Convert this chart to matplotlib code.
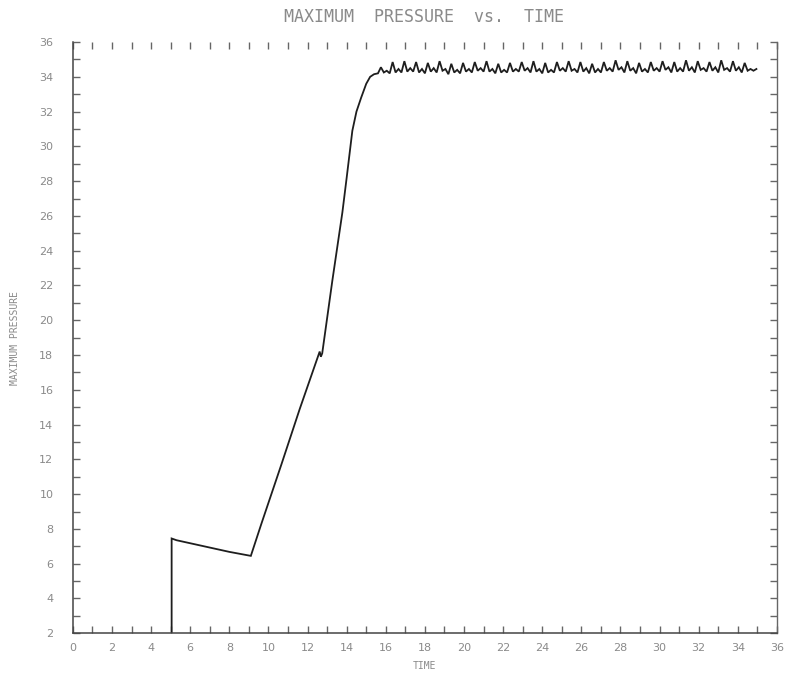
import matplotlib
matplotlib.use("Agg")
import matplotlib.pyplot as plt
from matplotlib.ticker import MultipleLocator

# ── data ─────────────────────────────────────────────────────────────────────
# quiet start, jump, slow decay, linear climb, knee, curve up to plateau
ramp_time = [0.0, 5.05, 5.05, 5.3, 6.5, 8.0, 9.1, 9.64, 10.66, 11.6, 12.62,
             12.68, 12.75, 13.27, 13.78, 14.0, 14.29, 14.5, 14.74, 15.0,
             15.2, 15.4]
ramp_pressure = [0.0, 0.0, 7.45, 7.35, 7.05, 6.68, 6.45, 8.3, 11.7, 14.9,
                 18.2, 17.9, 18.1, 22.3, 26.2, 28.2, 30.9, 32.0, 32.8, 33.6,
                 34.0, 34.15]

# oscillating plateau
plateau_time = [
    15.60, 15.75, 15.90, 16.05, 16.20, 16.35, 16.50, 16.65,
    16.80, 16.95, 17.10, 17.25, 17.40, 17.55, 17.70, 17.85,
    18.00, 18.15, 18.30, 18.45, 18.60, 18.75, 18.90, 19.05,
    19.20, 19.35, 19.50, 19.65, 19.80, 19.95, 20.10, 20.25,
    20.40, 20.55, 20.70, 20.85, 21.00, 21.15, 21.30, 21.45,
    21.60, 21.75, 21.90, 22.05, 22.20, 22.35, 22.50, 22.65,
    22.80, 22.95, 23.10, 23.25, 23.40, 23.55, 23.70, 23.85,
    24.00, 24.15, 24.30, 24.45, 24.60, 24.75, 24.90, 25.05,
    25.20, 25.35, 25.50, 25.65, 25.80, 25.95, 26.10, 26.25,
    26.40, 26.55, 26.70, 26.85, 27.00, 27.15, 27.30, 27.45,
    27.60, 27.75, 27.90, 28.05, 28.20, 28.35, 28.50, 28.65,
    28.80, 28.95, 29.10, 29.25, 29.40, 29.55, 29.70, 29.85,
    30.00, 30.15, 30.30, 30.45, 30.60, 30.75, 30.90, 31.05,
    31.20, 31.35, 31.50, 31.65, 31.80, 31.95, 32.10, 32.25,
    32.40, 32.55, 32.70, 32.85, 33.00, 33.15, 33.30, 33.45,
    33.60, 33.75, 33.90, 34.05, 34.20, 34.35, 34.50, 34.65,
    34.80, 34.95,
]
plateau_pressure = [
    34.20, 34.55, 34.25, 34.35, 34.20, 34.85, 34.25, 34.45,
    34.25, 34.90, 34.30, 34.50, 34.30, 34.85, 34.25, 34.45,
    34.20, 34.80, 34.30, 34.50, 34.25, 34.90, 34.35, 34.45,
    34.15, 34.75, 34.25, 34.40, 34.20, 34.80, 34.30, 34.45,
    34.25, 34.85, 34.35, 34.50, 34.30, 34.90, 34.30, 34.45,
    34.20, 34.75, 34.25, 34.40, 34.25, 34.80, 34.30, 34.45,
    34.30, 34.85, 34.35, 34.50, 34.25, 34.90, 34.30, 34.45,
    34.20, 34.80, 34.25, 34.40, 34.25, 34.85, 34.35, 34.50,
    34.30, 34.90, 34.35, 34.45, 34.25, 34.85, 34.30, 34.50,
    34.20, 34.75, 34.25, 34.45, 34.25, 34.85, 34.35, 34.50,
    34.30, 34.95, 34.40, 34.55, 34.25, 34.90, 34.35, 34.50,
    34.20, 34.80, 34.30, 34.45, 34.25, 34.85, 34.35, 34.50,
    34.30, 34.90, 34.40, 34.55, 34.25, 34.85, 34.30, 34.50,
    34.30, 34.95, 34.35, 34.55, 34.25, 34.90, 34.40, 34.50,
    34.30, 34.85, 34.35, 34.55, 34.25, 34.95, 34.40, 34.50,
    34.30, 34.90, 34.35, 34.55, 34.25, 34.80, 34.35, 34.45,
    34.35, 34.45,
]

x_ticks = list(range(0, 37, 2))
y_ticks = list(range(2, 37, 2))

GREY = "#8a8a8a"
INK = "#1e1e1e"

fig = plt.figure(figsize=(7.92, 6.78), dpi=100)
ax = fig.add_axes([0.092, 0.066, 0.889, 0.872])

ax.plot(ramp_time + plateau_time, ramp_pressure + plateau_pressure,
        color=INK, linewidth=1.3, solid_joinstyle="miter")

ax.set_xlim(0, 36)
ax.set_ylim(2, 36)
ax.set_xticks(x_ticks)
ax.set_yticks(y_ticks)
ax.xaxis.set_minor_locator(MultipleLocator(1))
ax.yaxis.set_minor_locator(MultipleLocator(1))
ax.tick_params(which="both", direction="in", top=True, right=True,
               length=5, width=1.0, color="#666666")
ax.tick_params(which="major", labelsize=8, labelcolor=GREY)
ax.tick_params(axis="y", which="major", pad=14)
ax.tick_params(axis="x", which="major", pad=7)

for side in ("left", "bottom"):
    ax.spines[side].set_color("#444444")
    ax.spines[side].set_linewidth(1.1)
ax.spines["right"].set_color("#666666")
ax.spines["right"].set_linewidth(1.0)
ax.spines["top"].set_visible(False)

ax.set_xlabel("TIME", fontsize=7, color=GREY, family="DejaVu Sans Mono",
              labelpad=6)
ax.set_ylabel("MAXIMUM PRESSURE", fontsize=7, color=GREY,
              family="DejaVu Sans Mono", labelpad=14)
fig.text(0.535, 0.975, "MAXIMUM  PRESSURE  vs.  TIME", ha="center",
         va="center", fontsize=12, color=GREY, family="DejaVu Sans Mono")

fig.savefig("out.png", dpi=100)
